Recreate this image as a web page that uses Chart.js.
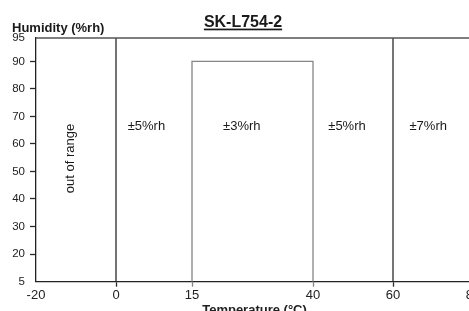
<!DOCTYPE html>
<html>
<head>
<meta charset="utf-8">
<script src="https://cdn.jsdelivr.net/npm/chart.js@4.4.0/dist/chart.umd.min.js"></script>
<style>
  html, body { margin: 0; padding: 0; overflow: hidden; background: #fff; }
  #wrap { position: relative; width: 486px; height: 318px; }
</style>
</head>
<body>
<div id="wrap"><canvas id="myChart"></canvas></div>
<script>
var TITLE = "SK-L754-2"
var X_LABEL = "Temperature (°C)"
var Y_LABEL = "Humidity (%rh)"
var X_TICKS = [-20, 0, 15, 40, 60, 80]
var Y_TICKS = [5, 20, 30, 40, 50, 60, 70, 80, 90, 95]
// ±3%rh box: temperature bounds and upper humidity
var BOX_TEMP = [15, 40]
var BOX_TOP = 90
// full height dividers between zones
var DIVIDERS = [0, 60]
var REGION_TEXT = ["out of range", "±5%rh", "±3%rh", "±5%rh", "±7%rh"]
var REGION_T = [-11.5, 6, 25.3, 48.5, 68.8]
var REGION_H = [54.7, 66.5, 66.5, 66.5, 66.5]

var H_MIN = Y_TICKS[0]
var H_MAX = Y_TICKS[Y_TICKS.length - 1]
var T_MIN = X_TICKS[0]
var T_MAX = X_TICKS[X_TICKS.length - 1]

Chart.defaults.font.family = '"Liberation Sans", Arial, sans-serif'
Chart.defaults.color = '#222'

// the reference axes are not evenly spaced, so the scale maps values piecewise
class WarpScale extends Chart.LinearScale {
  warp(v) {
    var s = this.options.stops, u = this.options.spans
    for (var i = 1; i < s.length; i++) {
      if (v <= s[i] || i == s.length - 1) {
        return u[i-1] + (v - s[i-1]) / (s[i] - s[i-1]) * (u[i] - u[i-1])
      }
    }
  }
  getPixelForValue(v) {
    var u = this.options.spans
    return this.getPixelForDecimal((this.warp(v) - u[0]) / (u[u.length-1] - u[0]))
  }
}
WarpScale.id = 'warp'
WarpScale.defaults = {}
Chart.register(WarpScale)

var textPlugin = {
  id: 'texts',
  afterDraw(chart) {
    var ctx = chart.ctx, xs = chart.scales.x, ys = chart.scales.y
    ctx.save()
    ctx.fillStyle = '#1a1a1a'
    ctx.textBaseline = 'alphabetic'
    ctx.font = 'bold 16px "Liberation Sans", Arial, sans-serif'
    ctx.textAlign = 'center'
    ctx.fillText(TITLE, 243, 26.5)
    var w = ctx.measureText(TITLE).width
    ctx.fillRect(243 - w/2, 28.6, w, 1.7)
    ctx.font = 'bold 13px "Liberation Sans", Arial, sans-serif'
    ctx.textAlign = 'left'
    ctx.fillText(Y_LABEL, 12, 32)

    ctx.font = '13px "Liberation Sans", Arial, sans-serif'
    ctx.textAlign = 'center'
    ctx.textBaseline = 'middle'
    REGION_TEXT.forEach(function(t, i) {
      var px = xs.getPixelForValue(REGION_T[i])
      var py = ys.getPixelForValue(REGION_H[i])
      if (i == 0) {
        ctx.save()
        ctx.translate(px, py)
        ctx.rotate(-Math.PI / 2)
        ctx.fillText(t, 0, 0)
        ctx.restore()
      } else {
        ctx.fillText(t, px, py)
      }
    })
    ctx.restore()
  }
}

function lineSet(points, color) {
  return {
    data: points,
    showLine: true,
    borderColor: color,
    borderWidth: 1.3,
    pointRadius: 0,
    clip: false
  }
}

var datasets = [
  lineSet([{x: BOX_TEMP[0], y: H_MIN}, {x: BOX_TEMP[0], y: BOX_TOP},
           {x: BOX_TEMP[1], y: BOX_TOP}, {x: BOX_TEMP[1], y: H_MIN}], '#858585'),
  lineSet([{x: T_MIN, y: H_MAX}, {x: T_MAX, y: H_MAX}], '#555')
]
DIVIDERS.forEach(function(t) {
  datasets.push(lineSet([{x: t, y: H_MIN}, {x: t, y: H_MAX}], '#2a2a2a'))
})

var myChart = new Chart(document.getElementById('myChart'), {
  type: 'scatter',
  data: { datasets: datasets },
  plugins: [textPlugin],
  options: {
    responsive: true,
    maintainAspectRatio: false,
    animation: false,
    events: [],
    layout: { padding: { top: 38, right: 13, left: 0, bottom: 0 } },
    plugins: { legend: { display: false }, tooltip: { enabled: false } },
    scales: {
      x: {
        type: 'warp',
        min: T_MIN,
        max: T_MAX,
        stops: X_TICKS,
        spans: [0, 80, 156, 277, 357, 437],
        afterBuildTicks: function(s) { s.ticks = X_TICKS.map(function(v) { return {value: v} }) },
        afterFit: function(s) { s.height = 36.3 },
        border: { display: true, color: '#222', width: 1.3 },
        grid: {
          drawOnChartArea: false,
          tickLength: 5,
          tickWidth: 1.3,
          tickColor: function(c) {
            var v = c.tick && c.tick.value
            if (v == T_MIN) return 'rgba(0,0,0,0)'
            return (v == 15 || v == 40) ? '#858585' : '#2a2a2a'
          }
        },
        ticks: {
          padding: 1,
          maxRotation: 0,
          autoSkip: false,
          font: { size: 13 },
          callback: function(v) { return String(v) }
        },
        title: {
          display: true,
          text: X_LABEL,
          font: { size: 13, weight: 'bold' },
          padding: { top: 0, bottom: 0 }
        }
      },
      y: {
        type: 'warp',
        min: H_MIN,
        max: H_MAX,
        stops: [5, 20, 90, 95],
        spans: [9.94, 20, 90, 98.5],
        afterBuildTicks: function(s) { s.ticks = Y_TICKS.map(function(v) { return {value: v} }) },
        afterFit: function(s) { s.width = 36 },
        border: { display: true, color: '#222', width: 1.3 },
        grid: {
          drawOnChartArea: false,
          tickLength: 6,
          tickWidth: 1.3,
          tickColor: function(c) {
            var v = c.tick && c.tick.value
            return (v == H_MIN || v == H_MAX) ? 'rgba(0,0,0,0)' : '#2a2a2a'
          }
        },
        ticks: {
          padding: 5,
          autoSkip: false,
          font: { size: 11.5 },
          callback: function(v) { return String(v) }
        }
      }
    }
  }
})
</script>
</body>
</html>
